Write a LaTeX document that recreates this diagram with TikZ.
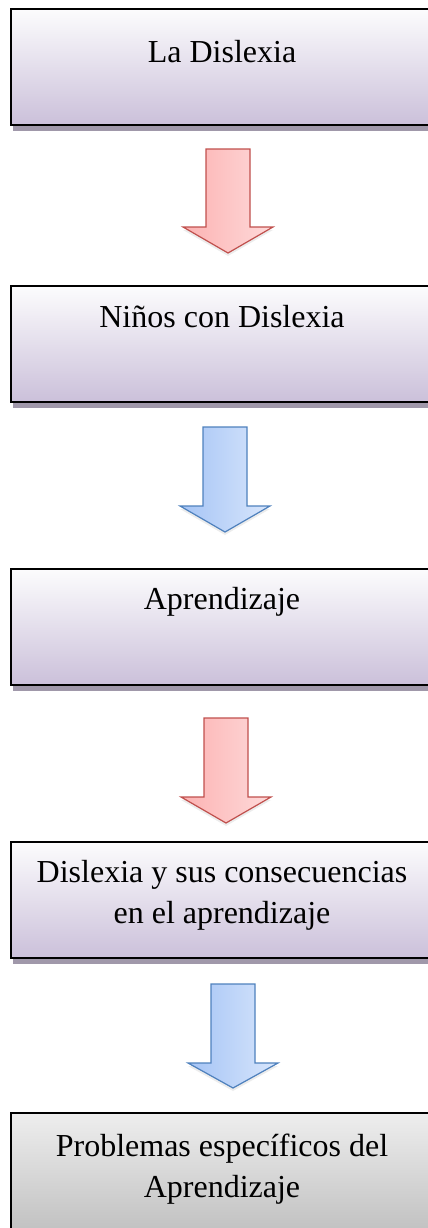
\documentclass[tikz,border=0pt]{standalone}
\usepackage{fontspec}
\setmainfont{Liberation Serif}
\usetikzlibrary{shadows}
\definecolor{boxtop}{RGB}{252,252,253}
\definecolor{boxbottom}{RGB}{203,192,218}
\definecolor{boxshade}{RGB}{160,152,170}
\definecolor{greytop}{RGB}{238,238,238}
\definecolor{greybottom}{RGB}{194,194,194}
\definecolor{redline}{RGB}{192,80,77}
\definecolor{redleft}{RGB}{252,178,178}
\definecolor{redright}{RGB}{254,218,218}
\definecolor{blueline}{RGB}{79,129,189}
\definecolor{blueleft}{RGB}{165,196,245}
\definecolor{blueright}{RGB}{216,230,252}
\tikzset{
		box/.style = 		{rectangle, draw, line width=1.8pt, minimum width=422pt, minimum height=116pt,
					top color=boxtop, bottom color=boxbottom,
					drop shadow={shadow xshift=2pt, shadow yshift=-6pt, fill=boxshade, opacity=1}},
		greybox/.style = 	{rectangle, draw, line width=1.2pt, minimum width=422pt, minimum height=116pt,
					top color=greytop, bottom color=greybottom},
		boxtext/.style=	{anchor=base, align=center, inner sep=0pt,
					font=\fontsize{32}{41}\selectfont},
		red arrow/.style = 	{draw=redline, line width=1.2pt, left color=redleft, right color=redright,
					drop shadow={shadow xshift=0pt, shadow yshift=-3pt, opacity=.15}},
		blue arrow/.style = 	{draw=blueline, line width=1.2pt, left color=blueleft, right color=blueright,
					drop shadow={shadow xshift=0pt, shadow yshift=-3pt, opacity=.15}}
}

\begin{document}
\begin{tikzpicture}[x=1pt, y=-1pt]
  \useasboundingbox (0,0) rectangle (428,1228);

  % base of the last line of text
  \foreach \name/\top/\base/\txt in {dislexia/9/63/La Dislexia,
        ninos/286/327/Niños con Dislexia,
        aprendizaje/569/609/Aprendizaje,
        consecuencias/842/923/{Dislexia y sus consecuencias\\en el aprendizaje}}
       {\node [box] (\name) at (222,\top+58) {};
        \node [boxtext] (\name-txt) at (222,\base) {\txt};}

  \node [greybox] (problemas) at (222,1113+58) {};
  \node [boxtext] (problemas-txt) at (222,1197) {Problemas específicos del\\Aprendizaje};

  \foreach \cx/\top/\wing/\tip/\col in {228/149/227/253/red, 225/427/506/532/blue,
        226/718/797/823/red, 233/984/1063/1088/blue}
    \path [\col\space arrow] (\cx-22,\top) -- (\cx+22,\top) -- (\cx+22,\wing) -- (\cx+45,\wing)
        -- (\cx,\tip) -- (\cx-45,\wing) -- (\cx-22,\wing) -- cycle;

\end{tikzpicture}
\end{document}
